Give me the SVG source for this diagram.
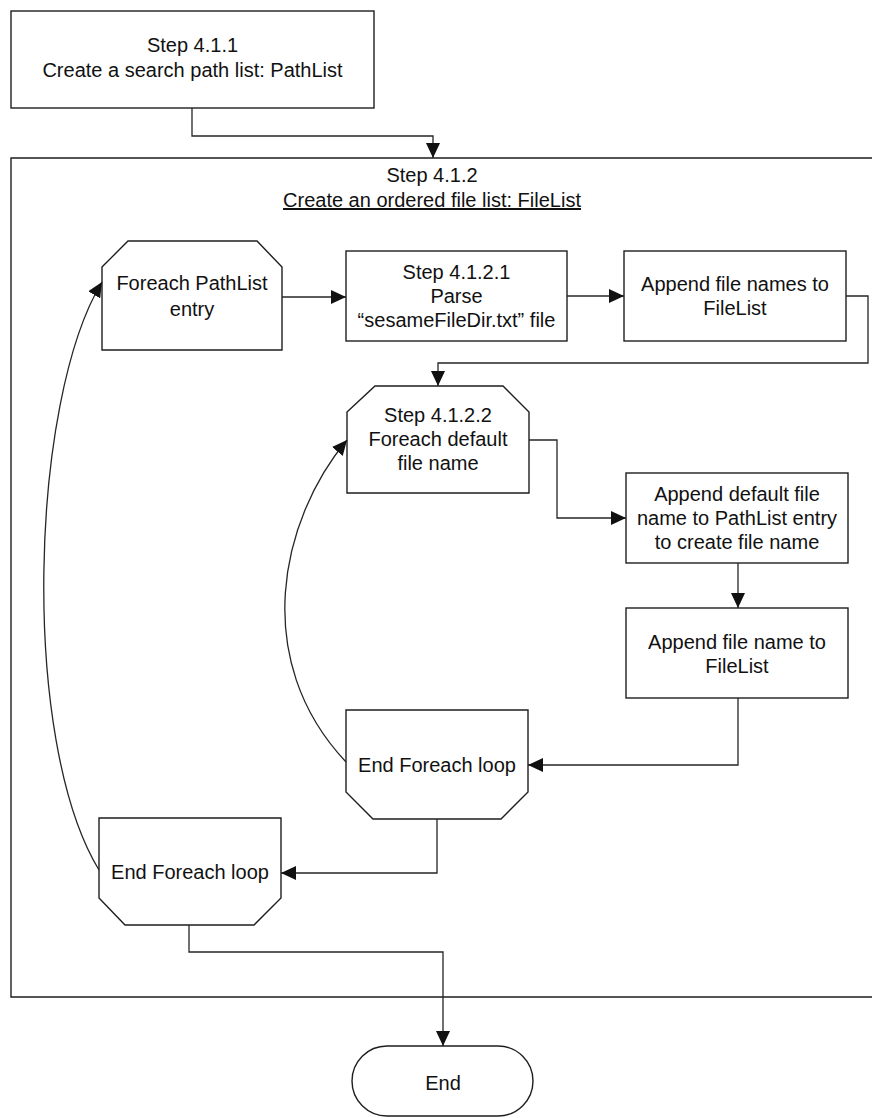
<svg xmlns="http://www.w3.org/2000/svg" width="872" height="1118" viewBox="0 0 872 1118">
  <style>
    .shape { fill: #ffffff; stroke: #1e1e1e; stroke-width: 1.4; }
    .frame { fill: none; stroke: #1e1e1e; stroke-width: 1.4; }
    .wire { fill: none; stroke: #262626; stroke-width: 1.3; }
    .lbl { font-family: "Liberation Sans", Arial, sans-serif; font-size: 20px; fill: #111111; text-anchor: middle; }
  </style>
  <defs>
    <marker id="arrow" markerUnits="userSpaceOnUse" markerWidth="16" markerHeight="14" refX="15" refY="7" orient="auto">
      <path d="M0,0 L15,7 L0,14 Z" fill="#111111"/>
    </marker>
  </defs>
  <rect width="872" height="1118" fill="#ffffff"/>

  <!-- outer step 4.1.2 container (open on the right edge) -->
  <g id="step-4-1-2">
    <path class="frame" d="M872,158 H11 V997 H872"/>
    <text class="lbl" x="432" y="182">Step 4.1.2</text>
    <text class="lbl" x="432" y="207" text-decoration="underline">Create an ordered file list: FileList</text>
  </g>

  <g id="step-4-1-1">
    <rect class="shape" x="11" y="11" width="363" height="97"/>
    <text class="lbl" x="192.5" y="52">Step 4.1.1</text>
    <text class="lbl" x="192.5" y="77">Create a search path list: PathList</text>
  </g>

  <g id="foreach-pathlist">
    <polygon class="shape" points="102,267 128,241 257,241 282,267 282,350 102,350"/>
    <text class="lbl" x="192" y="290">Foreach PathList</text>
    <text class="lbl" x="192" y="316">entry</text>
  </g>

  <g id="step-4-1-2-1">
    <rect class="shape" x="346" y="251" width="221" height="90"/>
    <text class="lbl" x="456.5" y="279">Step 4.1.2.1</text>
    <text class="lbl" x="456.5" y="303">Parse</text>
    <text class="lbl" x="456.5" y="327">“sesameFileDir.txt” file</text>
  </g>

  <g id="append-file-names">
    <rect class="shape" x="624" y="251" width="222" height="90"/>
    <text class="lbl" x="735" y="291">Append file names to</text>
    <text class="lbl" x="735" y="315">FileList</text>
  </g>

  <g id="step-4-1-2-2">
    <polygon class="shape" points="347,412 375,386 503,386 529,412 529,493 347,493"/>
    <text class="lbl" x="438" y="422">Step 4.1.2.2</text>
    <text class="lbl" x="438" y="446">Foreach default</text>
    <text class="lbl" x="438" y="470">file name</text>
  </g>

  <g id="append-default">
    <rect class="shape" x="626" y="473" width="222" height="90"/>
    <text class="lbl" x="737" y="501">Append default file</text>
    <text class="lbl" x="737" y="525">name to PathList entry</text>
    <text class="lbl" x="737" y="549">to create file name</text>
  </g>

  <g id="append-file-name">
    <rect class="shape" x="626" y="608" width="222" height="90"/>
    <text class="lbl" x="737" y="649">Append file name to</text>
    <text class="lbl" x="737" y="673">FileList</text>
  </g>

  <g id="end-inner-loop">
    <polygon class="shape" points="346,710 528,710 528,792 501,819 373,819 346,792"/>
    <text class="lbl" x="437" y="772">End Foreach loop</text>
  </g>

  <g id="end-outer-loop">
    <polygon class="shape" points="99,818 281,818 281,898 254,925 125,925 99,898"/>
    <text class="lbl" x="190" y="879">End Foreach loop</text>
  </g>

  <g id="end">
    <rect class="shape" x="352" y="1046" width="181" height="70" rx="35" ry="35"/>
    <text class="lbl" x="443" y="1090">End</text>
  </g>

  <g id="connectors">
    <path class="wire" d="M192,108 V136 H433 V158" marker-end="url(#arrow)"/>
    <path class="wire" d="M282,297 H346" marker-end="url(#arrow)"/>
    <path class="wire" d="M567,296 H624" marker-end="url(#arrow)"/>
    <path class="wire" d="M846,296 H868 V363 H438 V386" marker-end="url(#arrow)"/>
    <path class="wire" d="M529,440 H557 V518 H626" marker-end="url(#arrow)"/>
    <path class="wire" d="M738,563 V608" marker-end="url(#arrow)"/>
    <path class="wire" d="M738,698 V765 H528" marker-end="url(#arrow)"/>
    <path class="wire" d="M346,762 C250,660 280,520 347,440" marker-end="url(#arrow)"/>
    <path class="wire" d="M437,819 V873 H281" marker-end="url(#arrow)"/>
    <path class="wire" d="M99,870 C20,740 30,400 102,282" marker-end="url(#arrow)"/>
    <path class="wire" d="M189,925 V952 H443 V1046" marker-end="url(#arrow)"/>
  </g>
</svg>
